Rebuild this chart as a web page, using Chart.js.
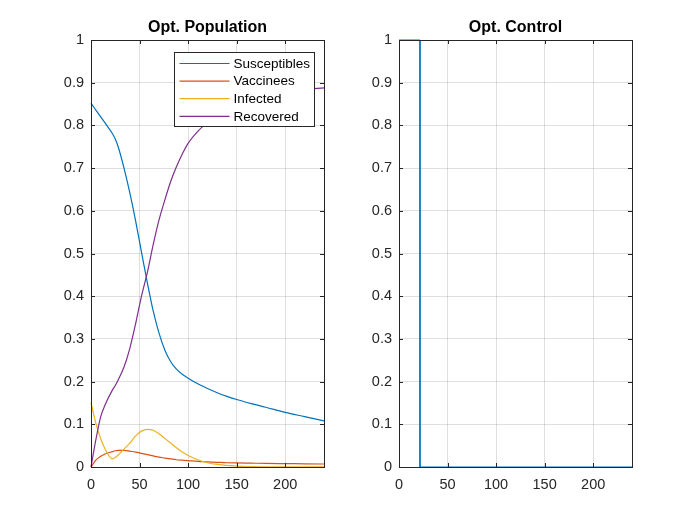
<!DOCTYPE html>
<html>
<head>
<meta charset="utf-8">
<script src="https://cdn.jsdelivr.net/npm/chart.js@4.4.0/dist/chart.umd.min.js"></script>
<style>
  body { margin: 0; background: #fff; }
  #wrap { position: relative; width: 700px; height: 525px; }
  canvas { position: absolute; top: 0; }
</style>
</head>
<body>
<div id="wrap">
  <canvas id="pop" width="350" height="525" style="left:0px"></canvas>
  <canvas id="ctl" width="350" height="525" style="left:350px"></canvas>
</div>
<script>
// time grid (days) shared by the four population curves
const tDays = [0, 5, 10, 15, 22, 25, 28, 34, 40, 46, 52, 58, 64, 70, 76, 82, 88, 94, 100,
               110, 120, 130, 140, 150, 165, 180, 200, 220, 240];

const susceptibles = [0.852, 0.836, 0.820, 0.804, 0.781, 0.768, 0.750, 0.700, 0.642, 0.576, 0.503, 0.432, 0.366, 0.314, 0.274, 0.247, 0.229, 0.217, 0.208,
                      0.195, 0.184, 0.174, 0.1655, 0.158, 0.1485, 0.140, 0.128, 0.118, 0.108];
const vaccinees    = [0, 0.016, 0.025, 0.031, 0.036, 0.038, 0.039, 0.039, 0.037, 0.035, 0.032, 0.029, 0.026, 0.023, 0.021, 0.019, 0.017, 0.016, 0.015,
                      0.013, 0.012, 0.011, 0.010, 0.0095, 0.009, 0.0085, 0.008, 0.0075, 0.007];
const infected     = [0.151, 0.102, 0.066, 0.040, 0.019, 0.022, 0.028, 0.042, 0.056, 0.073, 0.084, 0.088, 0.086, 0.078, 0.067, 0.056, 0.045, 0.035, 0.027,
                      0.017, 0.010, 0.006, 0.004, 0.002, 0.001, 0.0005, 0.0003, 0.0002, 0.0001];
const recovered    = [0, 0.064, 0.118, 0.148, 0.180, 0.191, 0.204, 0.234, 0.278, 0.336, 0.400, 0.455, 0.520, 0.578, 0.625, 0.668, 0.703, 0.733, 0.758,
                      0.786, 0.807, 0.824, 0.838, 0.849, 0.861, 0.870, 0.878, 0.884, 0.888];

// bang-bang control: on until the switch, then off
const controlT = [0, 21.6, 21.6, 240];
const controlU = [1, 1, 0, 0];

const seriesNames = ['Susceptibles', 'Vaccinees', 'Infected', 'Recovered'];
const seriesColors = ['#0072BD', '#D95319', '#EDB120', '#7E2F8E'];

const xTicks = [0, 50, 100, 150, 200];
const yTicks = [0, 0.1, 0.2, 0.3, 0.4, 0.5, 0.6, 0.7, 0.8, 0.9, 1];
const titles = ['Opt. Population', 'Opt. Control'];

const FONT = 'Liberation Sans, Arial, Helvetica, sans-serif';
const INK = '#262626';

function pts(xs, ys) {
  return xs.map((x, i) => ({x: x, y: ys[i]}));
}

// matlab look: full box, inward ticks, optional legend inside the axes
const matlabAxes = {
  id: 'matlabAxes',
  afterDraw(chart, args, opts) {
    const ctx = chart.ctx;
    const a = chart.chartArea;
    const xs = chart.scales.x, ys = chart.scales.y;
    ctx.save();
    ctx.strokeStyle = INK;
    ctx.lineWidth = 1;
    ctx.beginPath();
    xs.ticks.forEach(t => {
      const px = Math.round(xs.getPixelForValue(t.value)) + 0.5;
      ctx.moveTo(px, a.bottom); ctx.lineTo(px, a.bottom - 4);
      ctx.moveTo(px, a.top); ctx.lineTo(px, a.top + 4);
    });
    ys.ticks.forEach(t => {
      const py = Math.round(ys.getPixelForValue(t.value)) + 0.5;
      ctx.moveTo(a.left, py); ctx.lineTo(a.left + 4, py);
      ctx.moveTo(a.right, py); ctx.lineTo(a.right - 4, py);
    });
    ctx.stroke();
    ctx.strokeRect(a.left + 0.5, a.top + 0.5, a.right - a.left, a.bottom - a.top);

    if (opts.legend) {
      const bx = a.left + 83.5, by = a.top + 12.5, bw = 140, bh = 74;
      ctx.fillStyle = '#fff';
      ctx.fillRect(bx, by, bw, bh);
      ctx.strokeRect(bx, by, bw, bh);
      ctx.font = '13.5px ' + FONT;
      ctx.textBaseline = 'middle';
      ctx.textAlign = 'left';
      chart.data.datasets.forEach((ds, i) => {
        const ry = by + 11 + i * 17.6;
        ctx.strokeStyle = ds.borderColor;
        ctx.lineWidth = 1.2;
        ctx.beginPath();
        ctx.moveTo(bx + 5, ry); ctx.lineTo(bx + 55, ry);
        ctx.stroke();
        ctx.fillStyle = '#000';
        ctx.fillText(ds.label, bx + 59, ry + 0.5);
      });
    }
    ctx.restore();
  }
};

function makeChart(id, title, datasets, yWidth, rightPad, legend) {
  return new Chart(document.getElementById(id), {
    type: 'line',
    data: { datasets: datasets },
    plugins: [matlabAxes],
    options: {
      responsive: false,
      animation: false,
      layout: { padding: { left: 0, right: rightPad, top: 0, bottom: 0 } },
      plugins: {
        legend: { display: false },
        tooltip: { enabled: false },
        title: {
          display: true,
          text: title,
          fullSize: false,
          color: '#000',
          font: { family: FONT, size: 16, weight: 'bold', lineHeight: 1.2 },
          padding: { top: 17.9, bottom: 2.9 }
        },
        matlabAxes: { legend: legend }
      },
      elements: { point: { radius: 0 }, line: { borderWidth: 1.2 } },
      scales: {
        x: {
          type: 'linear', min: 0, max: 240,
          afterBuildTicks: s => { s.ticks = xTicks.map(v => ({value: v})); },
          afterFit: s => { s.height = 58; },
          grid: { color: 'rgba(38,38,38,0.15)', drawTicks: false },
          border: { display: false },
          ticks: { color: INK, padding: 9, maxRotation: 0, autoSkip: false,
                   font: { family: FONT, size: 14.5 }, callback: v => String(v) }
        },
        y: {
          type: 'linear', min: 0, max: 1,
          afterBuildTicks: s => { s.ticks = yTicks.map(v => ({value: v})); },
          afterFit: s => { s.width = yWidth; },
          grid: { color: 'rgba(38,38,38,0.15)', drawTicks: false },
          border: { display: false },
          ticks: { color: INK, padding: 7,
                   font: { family: FONT, size: 14.5 }, callback: v => String(v) }
        }
      }
    }
  });
}

const popSeries = [susceptibles, vaccinees, infected, recovered];
makeChart('pop', titles[0], popSeries.map((vals, i) => ({
  label: seriesNames[i],
  data: pts(tDays, vals),
  borderColor: seriesColors[i],
  cubicInterpolationMode: 'monotone',
  clip: false,
  order: 3 - i
})), 91, 26, true);

makeChart('ctl', titles[1], [{
  label: 'u',
  data: pts(controlT, controlU),
  borderColor: seriesColors[0],
  borderWidth: 1,
  tension: 0,
  clip: false
}], 49, 68, false);
</script>
</body>
</html>
